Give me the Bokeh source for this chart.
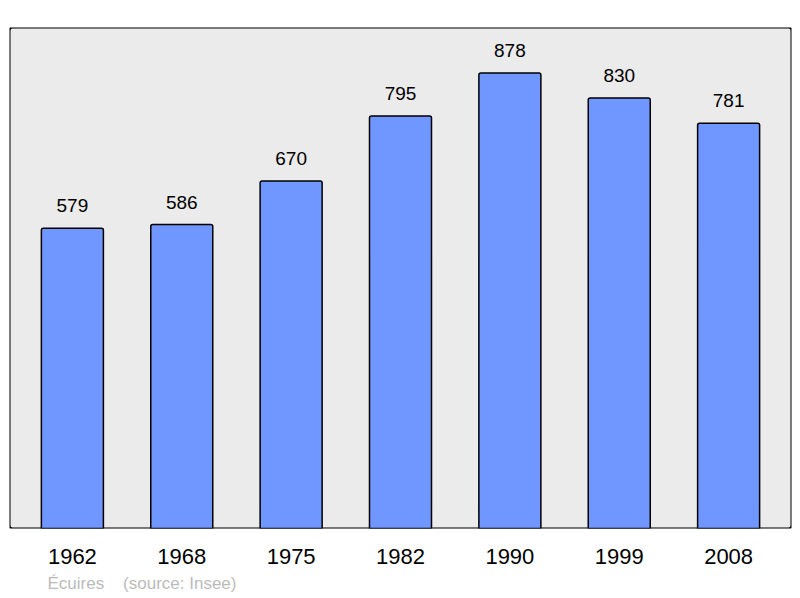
from bokeh.plotting import figure
from bokeh.models import ColumnDataSource, BoxAnnotation, Title, FactorRange, Range1d
from bokeh.core.properties import value
from bokeh.embed import file_html
from bokeh.resources import INLINE

years = ["1962", "1968", "1975", "1982", "1990", "1999", "2008"]
population = [579, 586, 670, 795, 878, 830, 781]
commune = "Écuires"
source_note = "(source: Insee)"

src = ColumnDataSource(dict(year=years, pop=population, lab=[str(v) for v in population]))

p = figure(width=792, height=597, output_backend="svg", toolbar_location=None,
           x_range=FactorRange(*years, range_padding=0.075, range_padding_units="absolute"),
           y_range=Range1d(0, max(population) * 1.1),
           min_border_left=9, min_border_right=1, min_border_top=27, min_border_bottom=68)

p.background_fill_color = "white"
p.border_fill_color = "white"
p.outline_line_color = None
p.grid.visible = False
p.yaxis.visible = False

frame_box = BoxAnnotation(fill_color="#ebebeb", fill_alpha=1.0, line_color="black", line_alpha=1.0,
                          line_width=2, border_radius=3, level="underlay")
p.add_layout(frame_box)

p.vbar(x="year", top="pop", width=0.567, source=src, fill_color="#7096ff",
       line_color="black", line_width=1.5,
       border_radius=dict(top_left=2, top_right=2, bottom_left=0, bottom_right=0))

p.text(x="year", y="pop", text="lab", source=src, text_align="center", text_baseline="bottom",
       y_offset=-16, text_font=value("Liberation Sans"), text_font_size="19px", text_color="black")

xa = p.xaxis[0]
xa.axis_line_color = None
xa.major_tick_line_color = None
xa.minor_tick_line_color = None
xa.major_label_text_font = "Liberation Sans"
xa.major_label_text_font_size = "22px"
xa.major_label_text_color = "black"
xa.major_label_standoff = 14

note = Title(text=commune + "\u00a0\u00a0\u00a0\u00a0" + source_note, align="left", offset=33,
             text_font="Liberation Sans", text_font_size="17px", text_font_style="normal",
             text_color="#bbbbbb", standoff=0, padding=5)
p.add_layout(note, "below")

open("out.html", "w").write(file_html(p, INLINE))
